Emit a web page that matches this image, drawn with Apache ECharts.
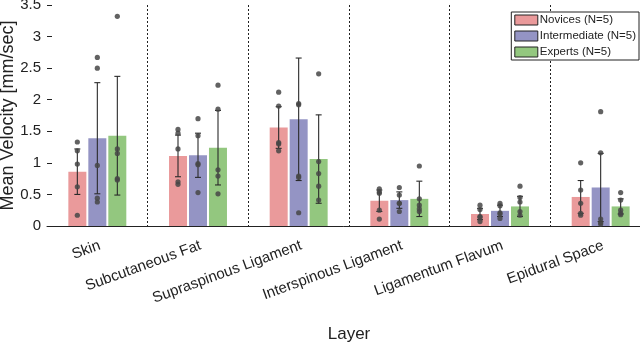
<!DOCTYPE html>
<html>
<head>
<meta charset="utf-8">
<script src="https://cdn.jsdelivr.net/npm/echarts@6/dist/echarts.min.js"></script>
<style>
  html, body { margin: 0; padding: 0; background: #fff; }
  #chart { width: 640px; height: 344px; }
</style>
</head>
<body>
<div id="chart"></div>
<script>
const layers = ['Skin', 'Subcutaneous Fat', 'Supraspinous Ligament', 'Interspinous Ligament', 'Ligamentum Flavum', 'Epidural Space'];
const groupNames = ['Novices (N=5)', 'Intermediate (N=5)', 'Experts (N=5)'];

// bar heights (mean) and error half-lengths
const novicesMean = [0.86, 1.11, 1.56, 0.40, 0.19, 0.46];
const novicesErr = [0.36, 0.33, 0.33, 0.17, 0.09, 0.26];
const interMean = [1.39, 1.12, 1.69, 0.41, 0.24, 0.61];
const interErr = [0.88, 0.35, 0.97, 0.13, 0.09, 0.54];
const expertsMean = [1.43, 1.24, 1.06, 0.43, 0.31, 0.31];
const expertsErr = [0.94, 0.59, 0.70, 0.28, 0.16, 0.12];

// individual subjects
const novicesPts = [
  [1.33, 1.19, 0.98, 0.62, 0.17],
  [1.53, 1.47, 1.22, 0.70, 0.66],
  [2.12, 1.90, 1.32, 1.30, 1.19],
  [0.59, 0.54, 0.52, 0.25, 0.11],
  [0.33, 0.26, 0.15, 0.14, 0.07],
  [1.00, 0.57, 0.36, 0.20, 0.17]
];
const interPts = [
  [2.67, 2.50, 0.96, 0.44, 0.38],
  [1.70, 1.43, 0.99, 0.97, 0.53],
  [1.94, 1.92, 0.79, 0.77, 0.21],
  [0.61, 0.49, 0.36, 0.36, 0.23],
  [0.36, 0.32, 0.21, 0.19, 0.12],
  [1.81, 1.16, 0.11, 0.05, 0.03]
];
const expertsPts = [
  [3.32, 1.22, 1.15, 0.75, 0.73],
  [2.23, 1.85, 0.89, 0.79, 0.51],
  [2.41, 1.02, 0.83, 0.63, 0.41],
  [0.95, 0.43, 0.33, 0.27, 0.23],
  [0.63, 0.45, 0.38, 0.23, 0.17],
  [0.53, 0.41, 0.25, 0.20, 0.18]
];

const yTicks = { min: 0, max: 3.5, interval: 0.5 };

const colors = ['#ea9a9b', '#9494c4', '#93c77f'];
const BAR_W = 18;
const STEP = 20; // centre to centre distance between bars of a group
const FONT = 'Liberation Sans, Arial, sans-serif';

const means = [novicesMean, interMean, expertsMean];
const errs = [novicesErr, interErr, expertsErr];
const pts = [novicesPts, interPts, expertsPts];

const chart = echarts.init(document.getElementById('chart'));

function errorSeries(g) {
  return {
    type: 'custom',
    z: 5,
    silent: true,
    data: means[g].map((m, i) => [i, m, errs[g][i]]),
    renderItem: (params, api) => {
      const c = api.value(0), m = api.value(1), e = api.value(2);
      const top = api.coord([c, m + e]);
      const bot = api.coord([c, m - e]);
      const x = top[0] + (g - 1) * STEP;
      const style = { stroke: '#2a2a2a', lineWidth: 1.1 };
      return {
        type: 'group',
        children: [
          { type: 'line', shape: { x1: x, y1: top[1], x2: x, y2: bot[1] }, style },
          { type: 'line', shape: { x1: x - 3, y1: top[1], x2: x + 3, y2: top[1] }, style },
          { type: 'line', shape: { x1: x - 3, y1: bot[1], x2: x + 3, y2: bot[1] }, style }
        ]
      };
    }
  };
}

function dotSeries(g) {
  const data = [];
  pts[g].forEach((arr, i) => arr.forEach(v => data.push([i, v])));
  return {
    type: 'custom',
    z: 6,
    silent: true,
    data,
    renderItem: (params, api) => {
      const p = api.coord([api.value(0), api.value(1)]);
      return {
        type: 'circle',
        shape: { cx: p[0] + (g - 1) * STEP, cy: p[1], r: 2.6 },
        style: { fill: 'rgba(70,70,70,0.85)' }
      };
    }
  };
}

const barSeries = groupNames.map((name, g) => ({
  name,
  type: 'bar',
  barWidth: BAR_W,
  barGap: '11%',
  itemStyle: { color: colors[g] },
  data: means[g]
}));

const option = {
  animation: false,
  textStyle: { fontFamily: FONT },
  grid: { left: 47, top: 5, width: 604, bottom: 118, containLabel: false, outerBoundsMode: 'none' },
  legend: {
    orient: 'vertical',
    right: 1,
    top: 12,
    data: groupNames,
    icon: 'rect',
    itemWidth: 23,
    itemHeight: 10,
    itemGap: 4,
    padding: [2, 3, 2, 3],
    borderColor: '#222',
    borderWidth: 1,
    backgroundColor: '#fff',
    itemStyle: { borderColor: '#222', borderWidth: 1 },
    textStyle: { fontSize: 11.5, color: '#222', fontFamily: FONT, padding: [0, 0, 0, -3] }
  },
  xAxis: {
    type: 'category',
    data: layers,
    name: 'Layer',
    nameLocation: 'middle',
    nameGap: 100,
    nameMoveOverlap: false,
    nameTextStyle: { fontSize: 17, color: '#222', fontFamily: FONT },
    axisLine: { lineStyle: { color: '#222', width: 1 } },
    axisTick: { inside: true, length: 4, lineStyle: { color: '#555' } },
    axisLabel: {
      interval: 0, rotate: 20, fontSize: 15, color: '#222', margin: 12,
      align: 'right', verticalAlign: 'top', fontFamily: FONT
    },
    splitLine: {
      show: true,
      interval: 0,
      showMinLine: false,
      lineStyle: { color: '#222', type: [2, 2], width: 1 }
    }
  },
  yAxis: {
    type: 'value',
    min: yTicks.min,
    max: yTicks.max,
    interval: yTicks.interval,
    name: 'Mean Velocity [mm/sec]',
    nameLocation: 'middle',
    nameGap: 30,
    nameMoveOverlap: false,
    nameTextStyle: { fontSize: 18, color: '#222', fontFamily: FONT },
    axisLine: { show: false },
    axisTick: { show: true, inside: true, length: 5, lineStyle: { color: '#222' } },
    axisLabel: { fontSize: 15, color: '#222', margin: 6, fontFamily: FONT },
    splitLine: { show: false }
  },
  series: [
    ...barSeries,
    ...[0, 1, 2].map(errorSeries),
    ...[0, 1, 2].map(dotSeries)
  ]
};

chart.setOption(option);
</script>
</body>
</html>
